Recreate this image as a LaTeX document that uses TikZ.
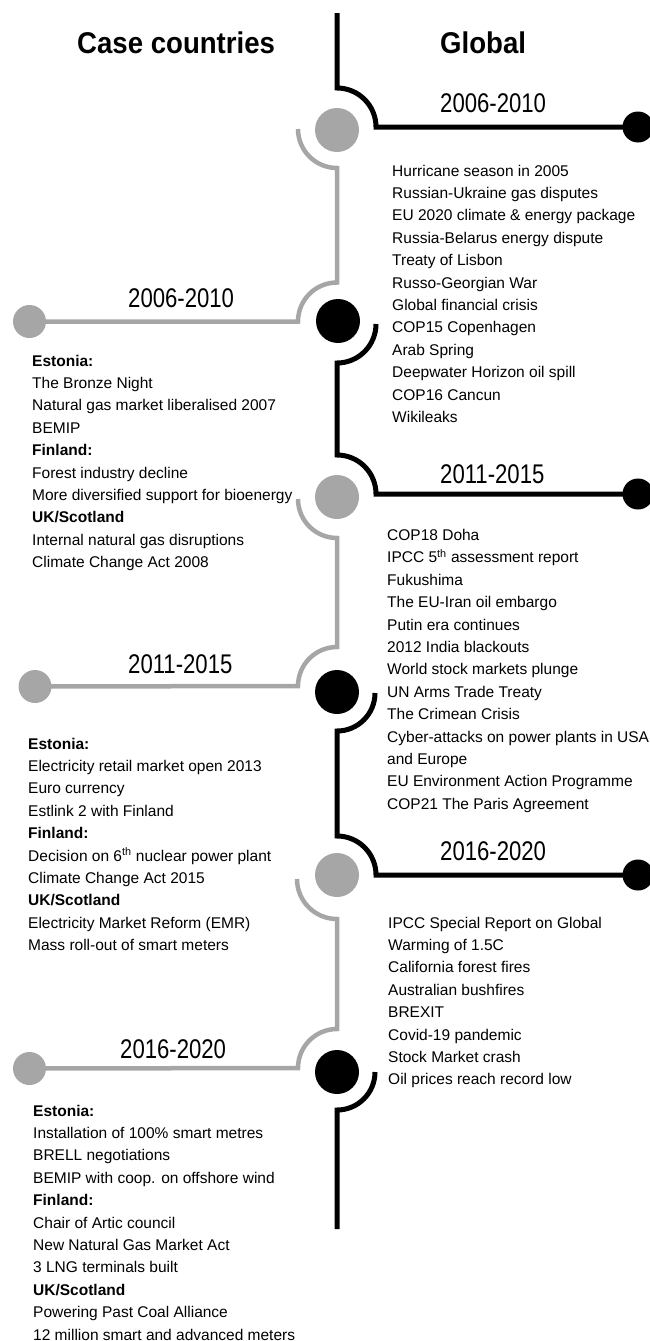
\documentclass[tikz,border=0pt]{standalone}
\usepackage{fontspec}
\setmainfont{Liberation Sans}
\newfontfamily\yearfont[FakeStretch=0.82]{Liberation Sans}
\newfontfamily\titlefont[FakeStretch=0.92]{Liberation Sans}
\definecolor{tlgrey}{HTML}{A6A6A6}
\begin{document}
\begin{tikzpicture}[x=1pt,y=-1pt,
  blk/.style={line width=5pt, draw=black},
  gry/.style={line width=4.5pt, draw=tlgrey},
  bigdot/.style={circle, inner sep=0pt, minimum size=44pt},
  enddot/.style={circle, inner sep=0pt, minimum size=31pt},
  bodytext/.style={anchor=base west, inner sep=0pt, font=\fontsize{15.5}{18}\selectfont},
  yeartext/.style={anchor=base west, inner sep=0pt, font=\yearfont\fontsize{27}{30}\selectfont},
  headtext/.style={anchor=base west, inner sep=0pt, font=\titlefont\bfseries\fontsize{30}{34}\selectfont}]
\useasboundingbox (0,0) rectangle (649,1341);

% dots on the central axis
\node[bigdot, fill=tlgrey] (G1) at (337,130) {};
\node[bigdot, fill=black]  (B1) at (338,321) {};
\node[bigdot, fill=tlgrey] (G2) at (337,497) {};
\node[bigdot, fill=black]  (B2) at (337,692) {};
\node[bigdot, fill=tlgrey] (G3) at (337,875) {};
\node[bigdot, fill=black]  (B3) at (337,1072) {};
% end dots
\node[enddot, fill=black] (rd1) at (638,127) {};
\node[enddot, fill=black] (rd2) at (638,494) {};
\node[enddot, fill=black] (rd3) at (638,875) {};
\node[enddot, minimum size=33pt, fill=tlgrey] (ld1) at (29.5,321.5) {};
\node[enddot, minimum size=33pt, fill=tlgrey] (ld2) at (35,686.5) {};
\node[enddot, minimum size=33pt, fill=tlgrey] (ld3) at (29.5,1068.5) {};

% free ends
\coordinate (top) at (337,13);
\coordinate (g1s) at (298,129);
\coordinate (b1s) at (376,324);
\coordinate (g2s) at (298,499);
\coordinate (b2s) at (375,693);
\coordinate (g3s) at (297,879);
\coordinate (b3s) at (375,1072);
\coordinate (bottom) at (337,1229);

% black (global) line
\draw[blk] (top) -- (337,88) arc[start angle=270, end angle=360, radius=39] -- (rd1.center);
\draw[blk] (b1s) arc[start angle=0, end angle=90, radius=39] -- (337,455)
  arc[start angle=270, end angle=360, radius=39] -- (rd2.center);
\draw[blk] (b2s) arc[start angle=0, end angle=90, radius=38] -- (337,836)
  arc[start angle=270, end angle=360, radius=39] -- (rd3.center);
\draw[blk] (b3s) arc[start angle=0, end angle=90, radius=38] -- (bottom);

% grey (case countries) line
\draw[gry] (g1s) arc[start angle=180, end angle=90, radius=39] -- (337,282.5)
  arc[start angle=270, end angle=180, radius=39] -- (ld1.center);
\draw[gry] (g2s) arc[start angle=180, end angle=90, radius=39] -- (337,647)
  arc[start angle=270, end angle=180, radius=39] -- (ld2.center);
\draw[gry] (g3s) arc[start angle=180, end angle=90, radius=40] -- (337,1029)
  arc[start angle=270, end angle=180, radius=39] -- (ld3.center);

% titles
\node[headtext] (tcase) at (77,53) {Case countries};
\node[headtext] (tglob) at (440,53) {Global};

% period labels
\node[yeartext] (yr1) at (440,112) {2006-2010};
\node[yeartext] (yr2) at (440,483) {2011-2015};
\node[yeartext] (yr3) at (440,860) {2016-2020};
\node[yeartext] (yl1) at (128,307) {2006-2010};
\node[yeartext] (yl2) at (128,673) {2011-2015};
\node[yeartext] (yl3) at (120,1058) {2016-2020};

% global lists
\foreach \t [count=\i] in {{Hurricane season in 2005},{Russian-Ukraine gas disputes},
  {EU 2020 climate \& energy package},{Russia-Belarus energy dispute},{Treaty of Lisbon},
  {Russo-Georgian War},{Global financial crisis},{COP15 Copenhagen},{Arab Spring},
  {Deepwater Horizon oil spill},{COP16 Cancun},{Wikileaks}}
  \node[bodytext] (ra\i) at (392,{176+(\i-1)*22.4}) {\t};

\foreach \t [count=\i] in {{COP18 Doha},{IPCC 5\textsuperscript{th} assessment report},{Fukushima},
  {The EU-Iran oil embargo},{Putin era continues},{2012 India blackouts},
  {World stock markets plunge},{UN Arms Trade Treaty},{The Crimean Crisis},
  {Cyber-attacks on power plants in USA},{and Europe},{EU Environment Action Programme},
  {COP21 The Paris Agreement}}
  \node[bodytext] (rb\i) at (387,{540.5+(\i-1)*22.4}) {\t};

\foreach \t [count=\i] in {{IPCC Special Report on Global},{Warming of 1.5C},
  {California forest fires},{Australian bushfires},{BREXIT},{Covid-19 pandemic},
  {Stock Market crash},{Oil prices reach record low}}
  \node[bodytext] (rc\i) at (388,{928+(\i-1)*22.4}) {\t};

% case country lists
\foreach \t [count=\i] in {{\textbf{Estonia:}},{The Bronze Night},
  {Natural gas market liberalised 2007},{BEMIP},{\textbf{Finland:}},
  {Forest industry decline},{More diversified support for bioenergy},
  {\textbf{UK/Scotland}},{Internal natural gas disruptions},{Climate Change Act 2008}}
  \node[bodytext] (la\i) at (32,{366+(\i-1)*22.4}) {\t};

\foreach \t [count=\i] in {{\textbf{Estonia:}},{Electricity retail market open 2013},
  {Euro currency},{Estlink 2 with Finland},{\textbf{Finland:}},
  {Decision on 6\textsuperscript{th} nuclear power plant},{Climate Change Act 2015},
  {\textbf{UK/Scotland}},{Electricity Market Reform (EMR)},{Mass roll-out of smart meters}}
  \node[bodytext] (lb\i) at (28,{749+(\i-1)*22.4}) {\t};

\foreach \t [count=\i] in {{\textbf{Estonia:}},{Installation of 100\% smart metres},
  {BRELL negotiations},{BEMIP with coop. on offshore wind},{\textbf{Finland:}},
  {Chair of Artic council},{New Natural Gas Market Act},{3 LNG terminals built},
  {\textbf{UK/Scotland}},{Powering Past Coal Alliance},{12 million smart and advanced meters}}
  \node[bodytext] (lc\i) at (33,{1116+(\i-1)*22.4}) {\t};
\end{tikzpicture}
\end{document}
